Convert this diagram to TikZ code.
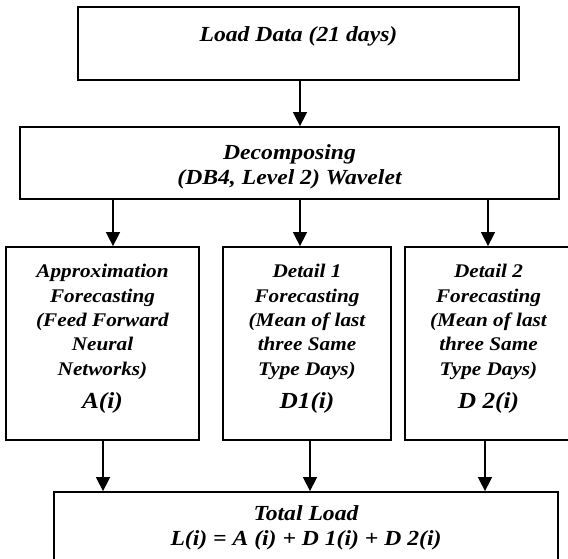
\documentclass[tikz,border=0pt]{standalone}
\usepackage{fontspec}
\setmainfont{Liberation Serif}[FakeStretch=1.1]
\usetikzlibrary{arrows.meta}

\tikzset{
  box/.style={draw, line width=1.8pt, rectangle, inner sep=0pt, outer sep=0.9pt},
  flow/.style={line width=1.5pt, -{Triangle[width=14pt,length=14pt]}},
  big/.style={font=\fontsize{21.5}{25}\selectfont\bfseries\itshape, align=center, anchor=base, inner sep=0pt},
  colt/.style={font=\fontsize{19.3}{24.3}\selectfont\bfseries\itshape, align=center, anchor=base, inner sep=0pt},
  sym/.style={font=\fontsize{23}{26}\selectfont\bfseries\itshape, anchor=base, inner sep=0pt}
}

\begin{document}
\begin{tikzpicture}[x=1pt, y=-1pt]
\useasboundingbox (0,0) rectangle (568,559);
\fill[white] (0,0) rectangle (568,559);
\clip (0,0) rectangle (568,559);

% boxes
\node[box, minimum width=441pt, minimum height=73pt] (load) at (298.5,43.5) {};
\node[box, minimum width=539pt, minimum height=72pt] (dec) at (289.5,163) {};
\node[box, minimum width=193pt, minimum height=193pt] (appr) at (102.5,343.5) {};
\node[box, minimum width=168pt, minimum height=193pt] (det1) at (307,343.5) {};
\node[box, minimum width=167pt, minimum height=193pt] (det2) at (488.5,343.5) {};
\node[box, minimum width=504pt, minimum height=69pt] (total) at (306,526.5) {};

% texts (multi-line nodes are anchored at the baseline of their last line)
\node[big] (tload) at (298.5,42) {Load Data (21 days)};
\node[big] (tdec) at (289.5,185) {Decomposing\\(DB4, Level 2) Wavelet};
\node[colt] (tappr) at (102.5,375) {Approximation\\Forecasting\\(Feed Forward\\Neural\\Networks)};
\node[colt] (tdet1) at (307,375) {Detail 1\\Forecasting\\(Mean of last\\three Same\\Type Days)};
\node[colt] (tdet2) at (488.5,375) {Detail 2\\Forecasting\\(Mean of last\\three Same\\Type Days)};
\node[sym] (sa) at (102.5,408) {A(i)};
\node[sym] (sd1) at (307,408) {D1(i)};
\node[sym] (sd2) at (488.5,408) {D 2(i)};
\node[big] (ttotal) at (306,545) {Total Load\\L(i) = A (i) + D 1(i) + D 2(i)};

% connectors
\draw[flow] ([xshift=1.5pt]load.south) -- ([xshift=1.5pt]load.south |- dec.north);
\draw[flow] ([xshift=10.5pt]appr.north |- dec.south) -- ([xshift=10.5pt]appr.north);
\draw[flow] ([xshift=-7pt]det1.north |- dec.south) -- ([xshift=-7pt]det1.north);
\draw[flow] ([xshift=-0.5pt]det2.north |- dec.south) -- ([xshift=-0.5pt]det2.north);
\draw[flow] ([xshift=0.5pt]appr.south) -- ([xshift=0.5pt]appr.south |- total.north);
\draw[flow] ([xshift=3pt]det1.south) -- ([xshift=3pt]det1.south |- total.north);
\draw[flow] ([xshift=-3.5pt]det2.south) -- ([xshift=-3.5pt]det2.south |- total.north);
\end{tikzpicture}
\end{document}
